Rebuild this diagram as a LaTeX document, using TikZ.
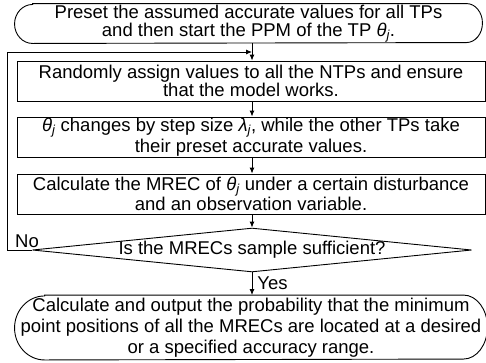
\documentclass[tikz,border=0pt]{standalone}
\usepackage{fontspec}
\setmainfont{Liberation Sans}
\usetikzlibrary{arrows.meta,shapes.geometric}
\newcommand\thj{\textit{θ\textsubscript{j}}}
\newcommand\lmj{\textit{λ\textsubscript{j}}}
\begin{document}
\begin{tikzpicture}[x=1pt,y=1pt,line width=0.9pt,
  every node/.style={align=center,inner sep=0pt,font=\fontsize{18.5}{18}\selectfont},
  stepbox/.style={draw,minimum width=468,minimum height=40},
  termnode/.style={minimum width=#1},
  decide/.style={draw,diamond,aspect=10,minimum width=410,minimum height=41},
  flow/.style={-{Latex[length=6pt,width=5pt]}}]
\useasboundingbox (0,0) rectangle (486,-362);

% terminal nodes (outlines drawn below)
\node[termnode=467,minimum height=39] (start) at (248.5,-23.5)
  {Preset the assumed accurate values for all TPs\\and then start the PPM of the TP \thj.};
\node[termnode=472,minimum height=64,font=\fontsize{18.5}{21}\selectfont] (finish) at (251,-327.5)
  {Calculate and output the probability that the minimum\\point positions of all the MRECs are located at a desired\\or a specified accuracy range.};

% process steps
\node[stepbox] (b1) at (251,-81) {Randomly assign values to all the NTPs and ensure\\that the model works.};
\node[stepbox] (b2) at (251,-137) {\thj{} changes by step size \lmj, while the other TPs take\\their preset accurate values.};
\node[stepbox] (b3) at (251,-194) {Calculate the MREC of \thj{} under a certain disturbance\\and an observation variable.};
\node[decide] (dec) at (252,-250) {Is the MRECs sample sufficient?};

% terminal outlines
\draw ([xshift=18pt]start.north west) -- ([xshift=-16pt]start.north east)
  arc[start angle=90,end angle=-90,x radius=16pt,y radius=19.5pt]
  -- ([xshift=18pt]start.south west)
  arc[start angle=270,end angle=90,x radius=18pt,y radius=19.5pt] -- cycle;
\draw ([xshift=30pt]finish.north west) -- ([xshift=-24pt]finish.north east)
  arc[start angle=90,end angle=-90,x radius=24pt,y radius=32pt]
  -- ([xshift=30pt]finish.south west)
  arc[start angle=270,end angle=90,x radius=30pt,y radius=32pt] -- cycle;

% connectors
\coordinate (join) at (252,-52);
\draw[flow] (start.south -| join) -- (b1.north -| join);
\draw[flow] (b1.south -| join) -- (b2.north -| join);
\draw[flow] (b2.south -| join) -- (b3.north -| join);
\draw[flow] (b3.south -| join) -- (dec.north);
\draw[flow] (dec.south) -- (finish.north -| dec.south);
\draw[flow] (dec.west) -- (7,-250) |- (join);

\node (no) at (27,-241) {No};
\node[anchor=west] (yes) at (257,-283) {Yes};
\end{tikzpicture}
\end{document}
